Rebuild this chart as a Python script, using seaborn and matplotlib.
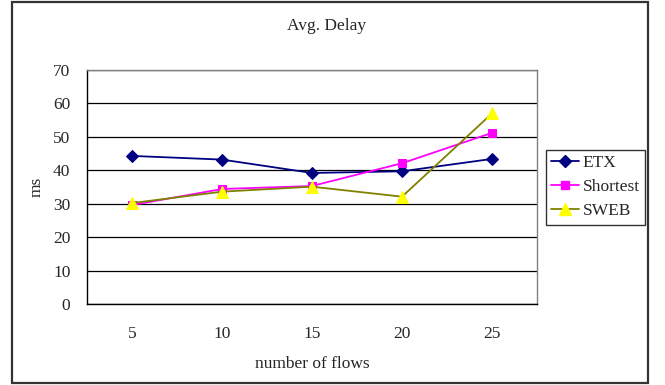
import matplotlib
matplotlib.use("Agg")
import matplotlib.pyplot as plt
from matplotlib.patches import Rectangle
from matplotlib.lines import Line2D
import seaborn as sns
import pandas as pd

flows = ["5", "10", "15", "20", "25"]
etx = [44.3, 43.2, 39.2, 39.7, 43.4]
shortest = [29.6, 34.4, 35.3, 42.1, 51.2]
sweb = [30.2, 33.6, 35.1, 32.1, 57.0]
series_names = ["ETX", "Shortest", "SWEB"]
y_ticks = [0, 10, 20, 30, 40, 50, 60, 70]

sns.set_theme(style="white")
plt.rcParams["font.family"] = ["Liberation Serif", "DejaVu Serif"]

df = pd.DataFrame({
    "pos": list(range(len(flows))) * 3,
    "value": etx + shortest + sweb,
    "series": [s for s in series_names for _ in flows],
})

line_colors = {"ETX": "#000080", "Shortest": "#FF00FF", "SWEB": "#808000"}
marker_style = {
    "ETX": dict(marker="D", ms=6, mfc="#000080", mec="#000080"),
    "Shortest": dict(marker="s", ms=6, mfc="#FF00FF", mec="#FF00FF"),
    "SWEB": dict(marker="^", ms=8, mfc="#FFFF00", mec="#FFFF00"),
}

fig = plt.figure(figsize=(6.65, 3.85), dpi=100)
ax = fig.add_axes([87 / 665, 1 - 304 / 385, 450 / 665, 234 / 385])

for name in series_names:
    sub = df[df["series"] == name]
    sns.lineplot(data=sub, x="pos", y="value", ax=ax, color=line_colors[name],
                 lw=1.3, legend=False, **marker_style[name])

ax.set_xlim(-0.5, len(flows) - 0.5)
ax.set_ylim(0, 70)
ax.set_yticks(y_ticks)
ax.set_yticklabels([str(v) for v in y_ticks], fontsize=12.5)
ax.set_xticks(range(len(flows)))
ax.set_xticklabels(flows, fontsize=12.5)
ax.set_xticks([i + 0.5 for i in range(len(flows) - 1)], minor=True)
ax.tick_params(axis="x", which="major", length=0, pad=16)
ax.tick_params(axis="x", which="minor", length=5, direction="in", width=1, color="black")
ax.tick_params(axis="y", length=0, pad=12)
ax.grid(axis="y", color="black", lw=0.9)
ax.set_axisbelow(True)

for side in ["left", "bottom"]:
    ax.spines[side].set_color("black")
    ax.spines[side].set_linewidth(1.0)
for side in ["top", "right"]:
    ax.spines[side].set_color("#808080")
    ax.spines[side].set_linewidth(1.0)

ax.set_xlabel("number of flows", fontsize=12.5, labelpad=10)
ax.set_ylabel("ms", fontsize=12.5, labelpad=6)
fig.text(327 / 665, 1 - 26 / 385, "Avg. Delay", ha="center", va="center", fontsize=12.5)

handles = [Line2D([0], [0], color=line_colors[n], lw=1.3, **marker_style[n]) for n in series_names]
leg = fig.legend(handles, series_names, loc="upper left",
                 bbox_to_anchor=(546 / 665, 1 - 150 / 385), fontsize=12.5,
                 frameon=True, fancybox=False, shadow=False, edgecolor="black",
                 handlelength=1.6, handletextpad=0.2, labelspacing=0.45,
                 borderpad=0.3, borderaxespad=0)
leg.get_frame().set_linewidth(1.0)

fig.patches.append(Rectangle((12 / 665, 2 / 385), (648 - 12) / 665, (383 - 2) / 385,
                             transform=fig.transFigure, fill=False,
                             edgecolor="#333333", lw=1.6))

fig.savefig("out.png", dpi=100)
